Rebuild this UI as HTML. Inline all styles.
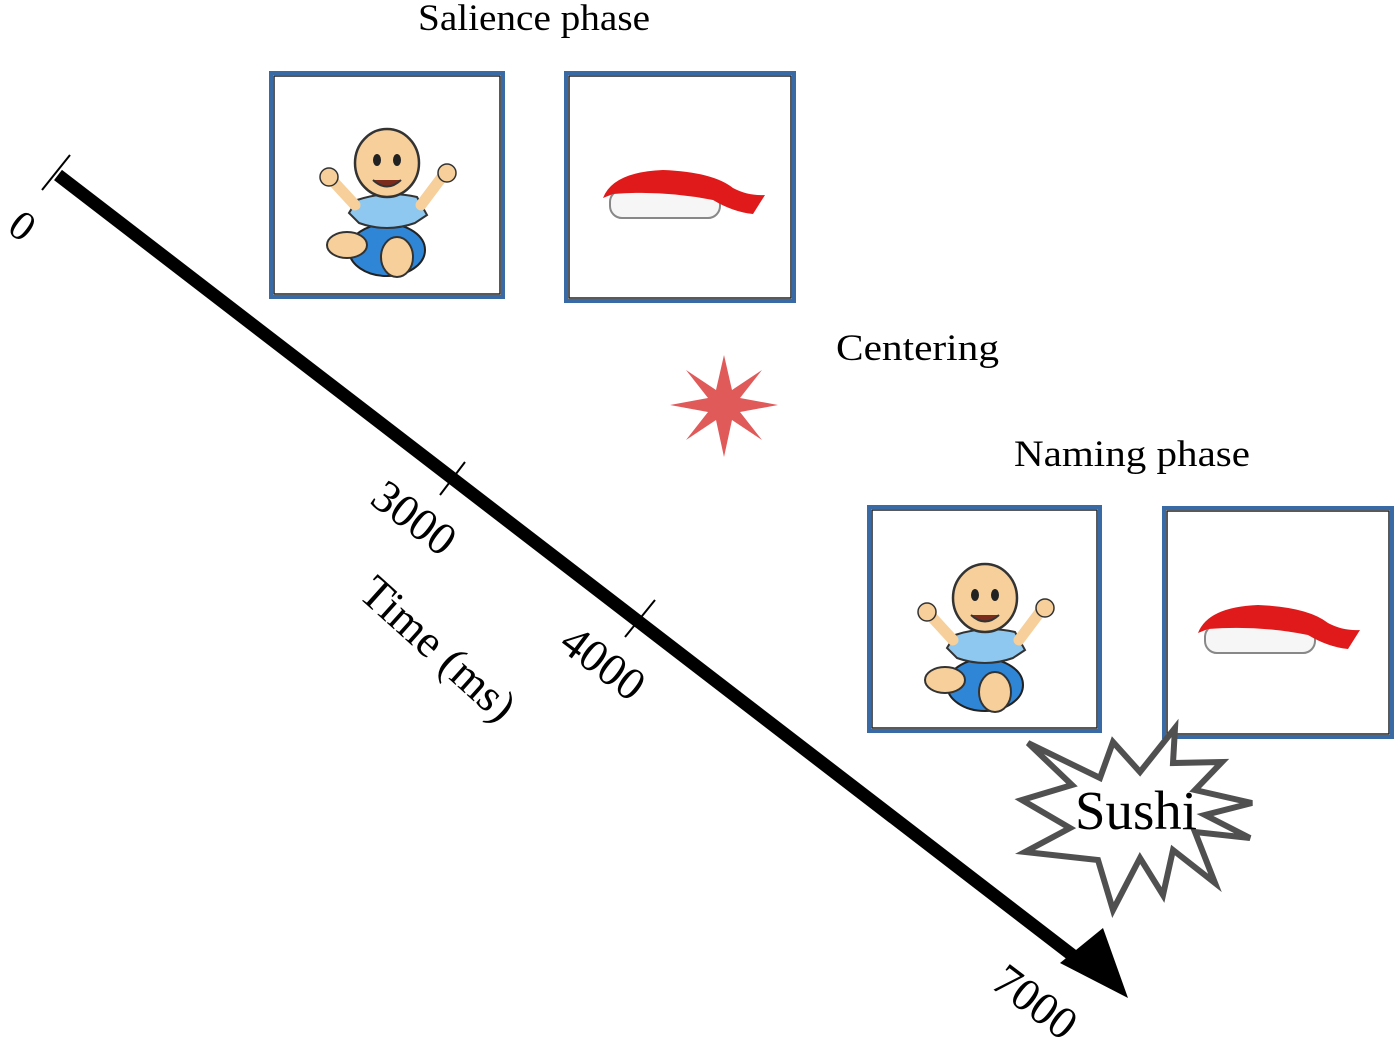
<!DOCTYPE html>
<html><head><style>
html,body{margin:0;padding:0;background:#fff;}
svg{display:block;}
text{font-family:"Liberation Serif",serif;fill:#000;}
</style></head><body>
<svg width="1400" height="1047" viewBox="0 0 1400 1047" xmlns="http://www.w3.org/2000/svg">
<defs>
<g id="baby">
  <ellipse cx="0" cy="45" rx="38" ry="26" fill="#2f86d6" stroke="#222" stroke-width="2"/>
  <ellipse cx="-40" cy="40" rx="20" ry="13" fill="#f6cf9a" stroke="#333" stroke-width="2"/>
  <ellipse cx="10" cy="52" rx="16" ry="20" fill="#f6cf9a" stroke="#333" stroke-width="2"/>
  <path d="M-30,-5 Q0,-15 30,-8 L40,10 L28,18 Q0,28 -28,18 L-38,8 Z" fill="#8ec8f0" stroke="#333" stroke-width="2"/>
  <path d="M-32,0 L-55,-25" stroke="#f6cf9a" stroke-width="11" stroke-linecap="round"/>
  <path d="M34,0 L55,-28" stroke="#f6cf9a" stroke-width="11" stroke-linecap="round"/>
  <circle cx="-58" cy="-28" r="9" fill="#f6cf9a" stroke="#333" stroke-width="1.5"/>
  <circle cx="60" cy="-32" r="9" fill="#f6cf9a" stroke="#333" stroke-width="1.5"/>
  <ellipse cx="0" cy="-42" rx="32" ry="34" fill="#f6cf9a" stroke="#333" stroke-width="2.5"/>
  <ellipse cx="-10" cy="-45" rx="4" ry="6" fill="#222"/>
  <ellipse cx="10" cy="-45" rx="4" ry="6" fill="#222"/>
  <path d="M-14,-25 Q0,-12 14,-25" fill="#7a2b1c" stroke="#333" stroke-width="2"/>
</g>
<g id="sushi">
  <rect x="7" y="0" width="110" height="28" rx="12" fill="#f6f6f6" stroke="#888" stroke-width="2"/>
  <path d="M0,8 Q10,-18 60,-20 Q110,-18 130,-2 Q145,6 162,5 L150,24 Q130,22 110,10 Q60,0 10,4 Z" fill="#e01a1a"/>
</g>
</defs>

<g fill="#fff" stroke="#3a6aa6" stroke-width="4">
  <rect x="271" y="73" width="232" height="224"/>
  <rect x="566" y="73" width="228" height="228"/>
  <rect x="869" y="507" width="231" height="224"/>
  <rect x="1164" y="508" width="228" height="229"/>
</g>
<g fill="none" stroke="#222" stroke-width="1.5">
  <rect x="274" y="76" width="226" height="218"/>
  <rect x="569" y="76" width="222" height="222"/>
  <rect x="872" y="510" width="225" height="218"/>
  <rect x="1167" y="511" width="222" height="223"/>
</g>

<use href="#baby" transform="translate(387,205)"/>
<use href="#baby" transform="translate(985,640)"/>
<use href="#sushi" transform="translate(603,190)"/>
<use href="#sushi" transform="translate(1198,625)"/>

<line x1="58" y1="175" x2="1085" y2="965" stroke="#000" stroke-width="13"/>
<polygon points="1128,998 1060,963 1103,928" fill="#000"/>
<g stroke="#000" stroke-width="2">
  <line x1="42" y1="190" x2="70" y2="155"/>
  <line x1="440" y1="495" x2="465" y2="462"/>
  <line x1="625" y1="637" x2="655" y2="600"/>
</g>

<polygon fill="#e05a5a" points="724,355 732,390 762,370 740,398 778,405 740,412 762,440 732,420 724,457 716,420 686,440 708,412 670,405 708,398 686,370 716,390"/>

<polygon fill="#fff" stroke="#505050" stroke-width="6" stroke-linejoin="miter" points="1028,743 1100,778 1113,742 1140,772 1175,728 1173,763 1222,762 1195,790 1252,803 1205,815 1250,838 1195,832 1215,883 1173,850 1163,895 1140,858 1113,910 1098,860 1025,852 1070,828 1022,800 1072,785"/>
<text x="1136" y="829" font-size="55" text-anchor="middle" textLength="122" lengthAdjust="spacingAndGlyphs">Sushi</text>

<text x="418" y="30" font-size="37" textLength="232" lengthAdjust="spacingAndGlyphs">Salience phase</text>
<text x="836" y="360" font-size="37" textLength="163" lengthAdjust="spacingAndGlyphs">Centering</text>
<text x="1014" y="466" font-size="37" textLength="236" lengthAdjust="spacingAndGlyphs">Naming phase</text>

<text font-size="42" transform="translate(14,237) rotate(37)" text-anchor="middle">0</text>
<text font-size="46" transform="translate(405,530) rotate(37)" text-anchor="middle">3000</text>
<text font-size="46" transform="translate(594,675) rotate(37)" text-anchor="middle">4000</text>
<text font-size="46" transform="translate(428,660) rotate(42)" text-anchor="middle">Time (ms)</text>
<text font-size="46" transform="translate(1026,1014) rotate(37)" text-anchor="middle">7000</text>
</svg>
</body></html>
